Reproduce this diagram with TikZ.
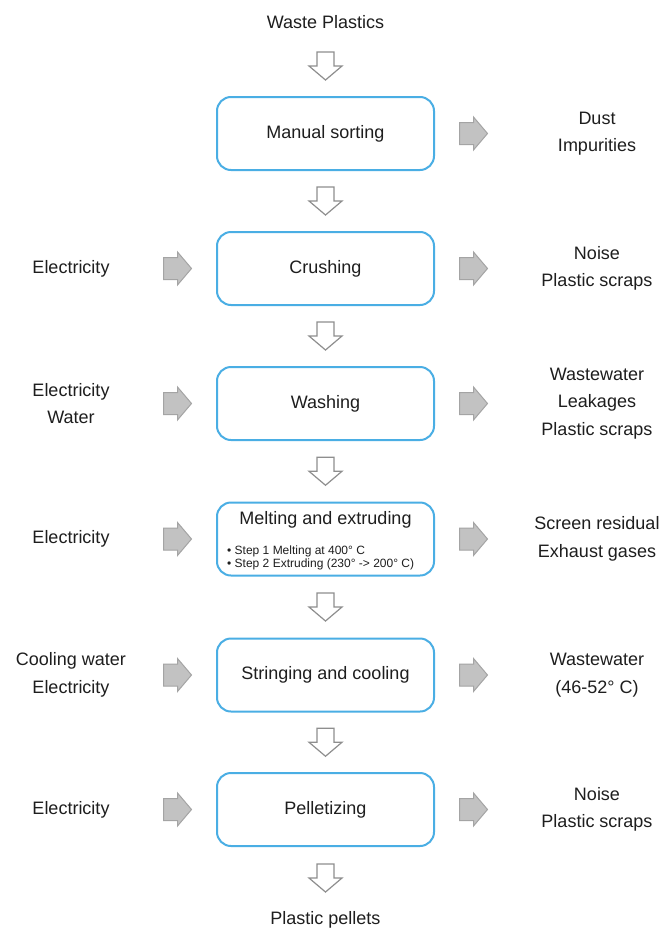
\documentclass[tikz,border=0pt]{standalone}
\usepackage{fontspec}
\setmainfont{Liberation Sans}
\usetikzlibrary{calc}
\definecolor{boxblue}{HTML}{4AAEE4}
\definecolor{txt}{HTML}{1E1E1E}
\definecolor{arrfill}{HTML}{C2C2C2}
\definecolor{arrline}{HTML}{A4A4A4}
\definecolor{holline}{HTML}{8E8E8E}
\tikzset{
  stepbox/.style={draw=boxblue, line width=2bp, rounded corners=14bp,
    minimum width=217bp, minimum height=73bp, inner sep=0pt,
    text=txt, font=\fontsize{18bp}{22bp}\selectfont},
  sidelabel/.style={text=txt, align=center, inner sep=0pt,
    font=\fontsize{18bp}{27.5bp}\selectfont},
  smalltxt/.style={text=txt, inner sep=0pt, anchor=west,
    font=\fontsize{12bp}{14bp}\selectfont},
  downarr/.pic={\draw[draw=holline, fill=white, line width=1.2bp, line join=miter]
    (-8.5,-14) -- (8.5,-14) -- (8.5,0) -- (16.5,0) -- (0,14) -- (-16.5,0) -- (-8.5,0) -- cycle;},
  rightarr/.pic={\draw[draw=arrline, fill=arrfill, line width=1bp, line join=miter]
    (-14,-11) -- (0,-11) -- (0,-16.5) -- (14,0) -- (0,16.5) -- (0,11) -- (-14,11) -- cycle;}
}
\begin{document}
\begin{tikzpicture}[x=1bp, y=-1bp]
\path[use as bounding box, fill=white] (0,0) rectangle (663,931);

% process steps
\node[stepbox] (s1) at (325.5,133.5) {Manual sorting};
\node[stepbox] (s2) at (325.5,268.5) {Crushing};
\node[stepbox] (s3) at (325.5,403.5) {Washing};
\node[stepbox] (s4) at (325.5,539) {};
\node[stepbox] (s5) at (325.5,675) {Stringing and cooling};
\node[stepbox] (s6) at (325.5,809.5) {Pelletizing};

\node[text=txt, inner sep=0pt, font=\fontsize{18bp}{22bp}\selectfont] (s4t) at ($(s4.center)+(0,-19)$) {Melting and extruding};
\node[smalltxt] (s4a) at ($(s4.west)+(11,12)$) {\textbullet\ Step 1 Melting at 400° C};
\node[smalltxt] (s4b) at ($(s4.west)+(11,25)$) {\textbullet\ Step 2 Extruding (230° -> 200° C)};

% start and end
\node[sidelabel] (in) at (325.5,22) {Waste Plastics};
\node[sidelabel] (out) at (325.5,920) {Plastic pellets};

% main flow arrows
\pic at ($(s1.north)+(0,-30)$) {downarr};
\pic at ($(s1.south)!0.5!(s2.north)$) {downarr};
\pic at ($(s2.south)!0.5!(s3.north)$) {downarr};
\pic at ($(s3.south)!0.5!(s4.north)$) {downarr};
\pic at ($(s4.south)!0.5!(s5.north)$) {downarr};
\pic at ($(s5.south)!0.5!(s6.north)$) {downarr};
\pic at ($(s6.south)+(0,31)$) {downarr};

% inputs
\node[sidelabel] (i2) at (71,268.5) {Electricity};
\node[sidelabel] (i3) at (71,403.5) {Electricity\\Water};
\node[sidelabel] (i4) at (71,539) {Electricity};
\node[sidelabel] (i5) at (71,675) {Cooling water\\Electricity};
\node[sidelabel] (i6) at (71,809.5) {Electricity};

% outputs
\node[sidelabel] (o1) at (597,133.5) {Dust\\Impurities};
\node[sidelabel] (o2) at (597,268.5) {Noise\\Plastic scraps};
\node[sidelabel] (o3) at (597,403.5) {Wastewater\\Leakages\\Plastic scraps};
\node[sidelabel] (o4) at (597,539) {Screen residual\\Exhaust gases};
\node[sidelabel] (o5) at (597,675) {Wastewater\\(46-52° C)};
\node[sidelabel] (o6) at (597,809.5) {Noise\\Plastic scraps};

% side arrows
\foreach \k in {2,...,6} {
  \pic at ($(s\k.west)+(-38.5,0)$) {rightarr};
}
\foreach \k in {1,...,6} {
  \pic at ($(s\k.east)+(38.5,0)$) {rightarr};
}
\end{tikzpicture}
\end{document}
